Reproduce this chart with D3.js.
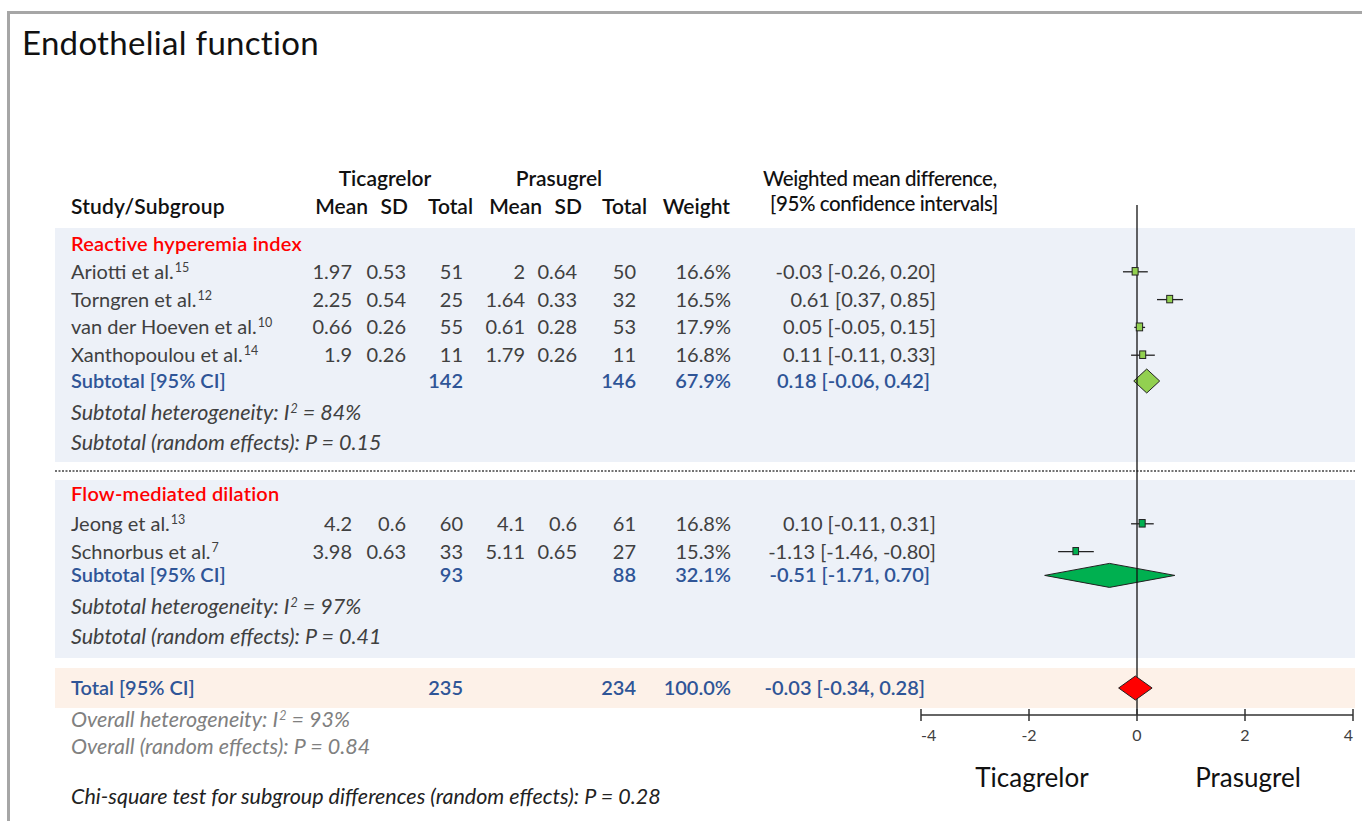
<!DOCTYPE html>
<html>
<head>
<meta charset="utf-8">
<script src="https://cdn.jsdelivr.net/npm/d3@7"></script>
<style>
  body { margin: 0; background: #fff; }
  svg text { font-family: Lato, "Open Sans", sans-serif; }
</style>
</head>
<body>
<div id="chart"></div>
<script>
// --- data ---
const studies = ["Ariotti et al.", "Torngren et al.", "van der Hoeven et al.", "Xanthopoulou et al.", "Jeong et al.", "Schnorbus et al."];
const refs = ["15", "12", "10", "14", "13", "7"];
const groupOf = [0, 0, 0, 0, 1, 1];
const ticMean = ["1.97", "2.25", "0.66", "1.9", "4.2", "3.98"];
const ticSD = ["0.53", "0.54", "0.26", "0.26", "0.6", "0.63"];
const ticN = [51, 25, 55, 11, 60, 33];
const praMean = ["2", "1.64", "0.61", "1.79", "4.1", "5.11"];
const praSD = ["0.64", "0.33", "0.28", "0.26", "0.6", "0.65"];
const praN = [50, 32, 53, 11, 61, 27];
const weights = [16.6, 16.5, 17.9, 16.8, 16.8, 15.3];
const wmd = [-0.03, 0.61, 0.05, 0.11, 0.10, -1.13];
const ciLo = [-0.26, 0.37, -0.05, -0.11, -0.11, -1.46];
const ciHi = [0.20, 0.85, 0.15, 0.33, 0.31, -0.80];

const groups = ["Reactive hyperemia index", "Flow-mediated dilation"];
const groupTicN = [142, 93];
const groupPraN = [146, 88];
const groupWeight = [67.9, 32.1];
const groupEst = [0.18, -0.51];
const groupLo = [-0.06, -1.71];
const groupHi = [0.42, 0.70];
const groupI2 = [84, 97];
const groupP = ["0.15", "0.41"];

const total = { ticN: 235, praN: 234, weight: 100.0, est: -0.03, lo: -0.34, hi: 0.28, i2: 93, p: "0.84" };
const chiP = "0.28";
const axisTicks = [-4, -2, 0, 2, 4];

// --- layout ---
const W = 1362, H = 821;
const svg = d3.select('#chart').append('svg').attr('width', W).attr('height', H);

const x = d3.scaleLinear().domain([-4, 4]).range([921, 1353]);
// hyphen minus like the original, not the unicode minus
const fmt2 = d3.formatLocale({ decimal: '.', thousands: ',', grouping: [3], currency: ['', ''], minus: '-' }).format('.2f');
const fmtCI = (e, l, h) => `${fmt2(e)} [${fmt2(l)}, ${fmt2(h)}]`;

const col = { tMean: 352, tSD: 406, tN: 463, pMean: 525, pSD: 577, pN: 636, weight: 731, ci: 936 };
const gray = '#404040', blue = '#2f5597', red = '#ff0000';
const sqFill = ['#92d050', '#00b050'];
const FS = 20;     // body font size
const FI = 21.5;   // italic notes

// frame
svg.append('rect').attr('x', 8.5).attr('y', 12.5).attr('width', W).attr('height', H)
  .attr('fill', 'none').attr('stroke', '#a6a6a6').attr('stroke-width', 3);

svg.append('text').attr('x', 22).attr('y', 55).attr('font-size', 33).attr('fill', '#111')
  .attr('letter-spacing', 0.3).text('Endothelial function');

const groupTop = [228, 480];
const groupBottom = [462, 658];
const headerY = [244, 494];
const rowStep = 27.8;

// panels
groups.forEach((g, gi) => {
  svg.append('rect').attr('x', 55).attr('y', groupTop[gi]).attr('width', 1300)
    .attr('height', groupBottom[gi] - groupTop[gi]).attr('fill', '#edf1f8');
});
svg.append('rect').attr('x', 55).attr('y', 668).attr('width', 1300).attr('height', 40).attr('fill', '#fdf1e8');
svg.append('line').attr('x1', 55).attr('x2', 1355).attr('y1', 471).attr('y2', 471)
  .attr('stroke', '#444').attr('stroke-width', 1.6).attr('stroke-dasharray', '2,1.5');

// headers
const head = svg.append('g').attr('font-size', 21).attr('fill', '#111').attr('font-weight', 600);
head.append('text').attr('x', 385).attr('y', 186).attr('text-anchor', 'middle').text('Ticagrelor');
head.append('text').attr('x', 559).attr('y', 186).attr('text-anchor', 'middle').text('Prasugrel');
head.append('text').attr('x', 71).attr('y', 214).attr('letter-spacing', 0.2).text('Study/Subgroup');
[['Mean', 368], ['SD', 408], ['Total', 473], ['Mean', 542], ['SD', 582], ['Total', 647], ['Weight', 730]]
  .forEach(([t, xx]) => head.append('text').attr('x', xx).attr('y', 214).attr('text-anchor', 'end').text(t));
head.append('text').attr('x', 763).attr('y', 186).attr('font-weight', 500).attr('font-size', 20.5)
  .attr('letter-spacing', -0.4).text('Weighted mean difference,');
head.append('text').attr('x', 770).attr('y', 211).attr('font-weight', 500).attr('font-size', 20.5)
  .attr('letter-spacing', -0.4).text('[95% confidence intervals]');

const body = svg.append('g').attr('font-size', FS);

function numText(xx, y, t, color, weight) {
  body.append('text').attr('x', xx).attr('y', y + 7).attr('text-anchor', 'end')
    .attr('fill', color).attr('font-weight', weight || 400).text(t);
}

function diamond(y, e, l, h, fill) {
  const hh = 12;
  svg.append('path')
    .attr('d', `M${x(l)},${y}L${x(e)},${y - hh}L${x(h)},${y}L${x(e)},${y + hh}Z`)
    .attr('fill', fill).attr('stroke', '#222').attr('stroke-width', 1);
}

function supText(xx, y, pre, sup, post, color, italic, size) {
  const t = body.append('text').attr('x', xx).attr('y', y + 7).attr('fill', color)
    .attr('font-size', size || FS).attr('font-style', italic ? 'italic' : null);
  t.append('tspan').text(pre);
  t.append('tspan').attr('font-size', 12.5).attr('dy', -7).attr('dx', 1).text(sup);
  if (post) t.append('tspan').attr('dy', 7).text(post);
  return t;
}

const markG = svg.append('g');

groups.forEach((g, gi) => {
  body.append('text').attr('x', 71).attr('y', headerY[gi] + 7).attr('fill', red)
    .attr('font-weight', 600).attr('letter-spacing', 0.2).text(g);
  const idx = d3.range(studies.length).filter(i => groupOf[i] === gi);
  idx.forEach((i, k) => {
    const y = headerY[gi] + rowStep * (k + 1) + (gi === 1 ? 2 : 0);
    supText(71, y, studies[i], refs[i], null, gray, false);
    numText(col.tMean, y, ticMean[i], gray);
    numText(col.tSD, y, ticSD[i], gray);
    numText(col.tN, y, ticN[i], gray);
    numText(col.pMean, y, praMean[i], gray);
    numText(col.pSD, y, praSD[i], gray);
    numText(col.pN, y, praN[i], gray);
    numText(col.weight, y, weights[i].toFixed(1) + '%', gray);
    numText(col.ci, y, fmtCI(wmd[i], ciLo[i], ciHi[i]), gray);
    // CI whisker + square
    markG.append('line').attr('x1', x(ciLo[i])).attr('x2', x(ciHi[i])).attr('y1', y).attr('y2', y)
      .attr('stroke', '#222').attr('stroke-width', 1.3);
    const s = 3 + weights[i] * 0.27;
    markG.append('rect').attr('x', x(wmd[i]) - s / 2 + 0.5).attr('y', y - s / 2 - 0.5)
      .attr('width', s - 1.5).attr('height', s).attr('fill', sqFill[gi]).attr('stroke', '#222').attr('stroke-width', 1);
  });
  const ys = headerY[gi] + rowStep * (idx.length + 1) - 2;
  body.append('text').attr('x', 71).attr('y', ys + 7).attr('fill', blue).attr('font-weight', 600).text('Subtotal [95% CI]');
  numText(col.tN, ys, groupTicN[gi], blue, 600);
  numText(col.pN, ys, groupPraN[gi], blue, 600);
  numText(col.weight, ys, groupWeight[gi].toFixed(1) + '%', blue, 600);
  numText(col.ci - 6, ys, fmtCI(groupEst[gi], groupLo[gi], groupHi[gi]), blue, 600);
  diamond(ys, groupEst[gi], groupLo[gi], groupHi[gi], sqFill[gi]);

  const yh = ys + 32;
  supText(71, yh, 'Subtotal heterogeneity: I', '2', ` = ${groupI2[gi]}%`, gray, true, FI);
  body.append('text').attr('x', 71).attr('y', yh + 30 + 7).attr('fill', gray).attr('font-style', 'italic')
    .attr('font-size', FI).text(`Subtotal (random effects): P = ${groupP[gi]}`);
});

// total row
const yt = 688;
body.append('text').attr('x', 71).attr('y', yt + 7).attr('fill', blue).attr('font-weight', 600).text('Total [95% CI]');
numText(col.tN, yt, total.ticN, blue, 600);
numText(col.pN, yt, total.praN, blue, 600);
numText(col.weight, yt, total.weight.toFixed(1) + '%', blue, 600);
numText(col.ci - 11, yt, fmtCI(total.est, total.lo, total.hi), blue, 600);

supText(71, 720, 'Overall heterogeneity: I', '2', ` = ${total.i2}%`, '#808080', true, FI);
body.append('text').attr('x', 71).attr('y', 754).attr('fill', '#808080').attr('font-style', 'italic')
  .attr('font-size', FI).text(`Overall (random effects): P = ${total.p}`);
body.append('text').attr('x', 71).attr('y', 804).attr('fill', '#222').attr('font-style', 'italic')
  .attr('font-size', FI).text(`Chi-square test for subgroup differences (random effects): P = ${chiP}`);

// zero line
svg.append('line').attr('x1', x(0)).attr('x2', x(0)).attr('y1', 205).attr('y2', 715)
  .attr('stroke', '#111').attr('stroke-width', 1.3);

// axis
const axisY = 715;
const axisG = svg.append('g').attr('transform', `translate(0,${axisY})`);
axisG.append('line').attr('x1', x(-4)).attr('x2', x(4)).attr('stroke', '#333').attr('stroke-width', 1.5);
axisTicks.forEach((t, i) => {
  const last = axisTicks.length - 1;
  axisG.append('line').attr('x1', x(t)).attr('x2', x(t)).attr('y1', -6).attr('y2', 6)
    .attr('stroke', '#333').attr('stroke-width', 1.5);
  axisG.append('text').attr('x', x(t)).attr('y', 26)
    .attr('text-anchor', i === 0 ? 'start' : (i === last ? 'end' : 'middle'))
    .attr('font-size', 16).attr('fill', gray).text(t < 0 ? '-' + Math.abs(t) : t);
});
markG.raise();
diamond(yt, total.est, total.lo, total.hi, '#ff0000');

svg.append('text').attr('x', 1032).attr('y', 787).attr('text-anchor', 'middle').attr('font-size', 26)
  .attr('fill', '#111').text('Ticagrelor');
svg.append('text').attr('x', 1248).attr('y', 787).attr('text-anchor', 'middle').attr('font-size', 26)
  .attr('fill', '#111').text('Prasugrel');
</script>
</body>
</html>
